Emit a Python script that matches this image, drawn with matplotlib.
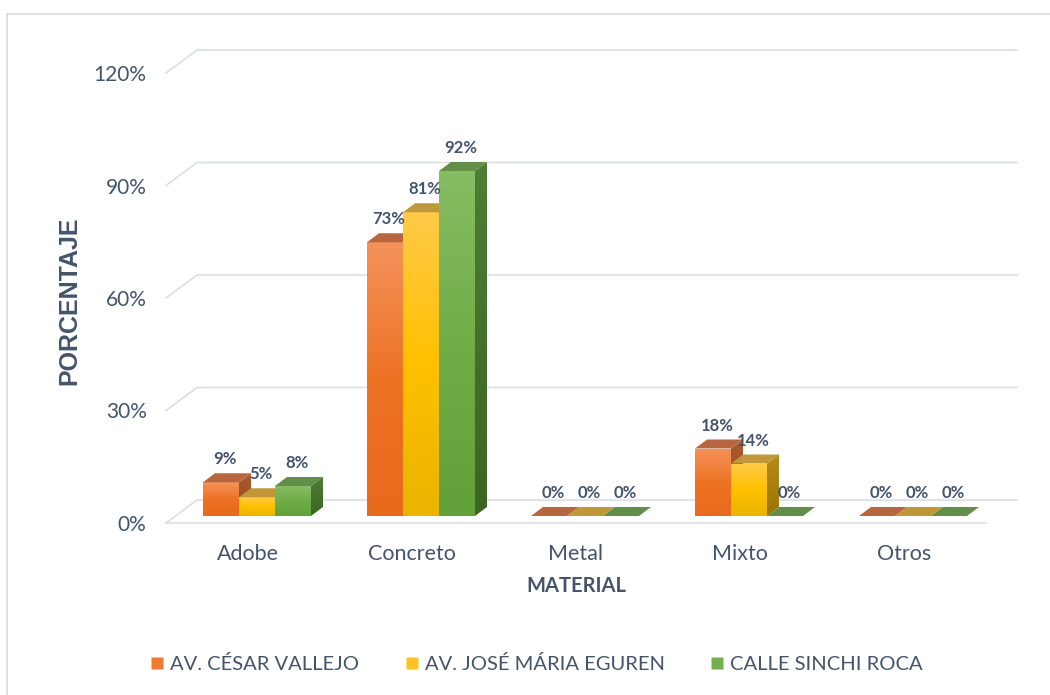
import numpy as np
import matplotlib
matplotlib.use("Agg")
import matplotlib.pyplot as plt
from matplotlib.patches import Polygon
from matplotlib.lines import Line2D
from matplotlib.colors import to_rgb

# data
categories = ["Adobe", "Concreto", "Metal", "Mixto", "Otros"]
series_names = ["AV. CÉSAR VALLEJO", "AV. JOSÉ MÁRIA EGUREN", "CALLE SINCHI ROCA"]
vallejo = [9, 73, 0, 18, 0]
eguren = [5, 81, 0, 14, 0]
sinchi = [8, 92, 0, 0, 0]
y_ticks = [0, 30, 60, 90, 120]

TEXT = "#44546A"
GRID = "#DADEE5"

# per series: front gradient, top face, side gradient, legend swatch
STYLES = [
    dict(front=("#F4925A", "#EE7224", "#E86A1C"), top="#B8663F", side=("#A8592E", "#9A4C20"), legend="#F07A30"),
    dict(front=("#FFCA48", "#FFC000", "#EBB400"), top="#C0983A", side=("#B48C1A", "#9A7400"), legend="#FFC325"),
    dict(front=("#86BC62", "#70AD47", "#62A03A"), top="#618E48", side=("#4E7D34", "#3C6524"), legend="#74B04C"),
]

# 3D look, in data units
BACK_DX, BACK_DY = 31 / 164, 23 / 3.75
FACE_DX, FACE_DY = 9 / 164, 7 / 3.75
DEPTH_DX, DEPTH_DY = 12 / 164, 9 / 3.75
BAR_W = 36 / 164

W, H = 1050, 695
fig = plt.figure(figsize=(W / 100, H / 100), dpi=100)
ax = fig.add_axes([166 / W, (H - 523) / H, 820 / W, 450 / H])
ax.set_xlim(-0.5, 4.5)
ax.set_ylim(0, 120)
ax.set_autoscale_on(False)
for s in ax.spines.values():
    s.set_visible(False)

# gridlines with perspective
for v in y_ticks:
    ax.plot([-0.5, -0.5 + BACK_DX, 4.5 + BACK_DX], [v, v + BACK_DY, v + BACK_DY],
            color=GRID, lw=1.2, clip_on=False, zorder=1)
ax.plot([-0.5, 4.5], [0, 0], color=GRID, lw=1.2, clip_on=False, zorder=1)


def gradient_face(verts, colors, z):
    poly = Polygon(verts, closed=True, facecolor="none", edgecolor="none", zorder=z)
    ax.add_patch(poly)
    xs = [p[0] for p in verts]
    ys = [p[1] for p in verts]
    stops = np.array([to_rgb(c) for c in colors])
    t = np.linspace(0, 1, 64)
    pos = np.linspace(0, 1, len(colors))
    grad = np.stack([np.interp(t, pos, stops[:, k]) for k in range(3)], axis=-1)
    im = ax.imshow(grad[:, None, :], extent=(min(xs), max(xs), min(ys), max(ys)), origin="upper",
                   aspect="auto", interpolation="bilinear", zorder=z)
    im.set_clip_path(poly)


def flat_face(verts, color, z):
    ax.add_patch(Polygon(verts, closed=True, facecolor=color, edgecolor="none", zorder=z))


values = [vallejo, eguren, sinchi]
z = 3
for ci in range(len(categories)):
    for si, vals in enumerate(values):
        v = vals[ci]
        st = STYLES[si]
        x0 = ci + FACE_DX - 1.5 * BAR_W + si * BAR_W
        x1 = x0 + BAR_W
        y0 = FACE_DY
        y1 = FACE_DY + v
        if v > 0:
            gradient_face([(x0, y0), (x1, y0), (x1, y1), (x0, y1)], st["front"], z)
            gradient_face([(x1, y0), (x1 + DEPTH_DX, y0 + DEPTH_DY),
                           (x1 + DEPTH_DX, y1 + DEPTH_DY), (x1, y1)], st["side"], z + 0.5)
        flat_face([(x0, y1), (x1, y1), (x1 + DEPTH_DX, y1 + DEPTH_DY),
                   (x0 + DEPTH_DX, y1 + DEPTH_DY)], st["top"], z + 0.6)
        ax.annotate(f"{v}%", xy=(x0 + BAR_W / 2 + DEPTH_DX / 3, y1 + DEPTH_DY),
                    xytext=(0, 10), textcoords="offset points", ha="center", va="center",
                    fontsize=12, fontweight="bold", color=TEXT, family="Lato", zorder=50)
        z += 1

ax.set_yticks(y_ticks)
ax.set_yticklabels([f"{v}%" for v in y_ticks], fontsize=15, color=TEXT, family="Lato")
ax.set_xticks(range(len(categories)))
ax.set_xticklabels(categories, fontsize=15.5, color=TEXT, family="Lato")
ax.tick_params(axis="y", length=0, pad=14)
ax.tick_params(axis="x", length=0, pad=15)

ax.set_xlabel("MATERIAL", fontsize=14.5, fontweight="bold", color=TEXT, family="Lato", labelpad=9)
fig.text(69 / W, 1 - 301 / H, "PORCENTAJE", rotation=90, ha="center", va="center",
         fontsize=18, fontweight="bold", color=TEXT, family="Liberation Sans")

# legend
handles = [Line2D([], [], marker="s", linestyle="none", markersize=8.5,
                  markerfacecolor=st["legend"], markeredgecolor="none") for st in STYLES]
leg = fig.legend(handles, series_names, loc="center", bbox_to_anchor=(537 / W, 1 - 664 / H),
                 ncol=3, frameon=False, handlelength=0.6, handletextpad=0.35,
                 columnspacing=2.3, prop={"family": "Lato", "size": 14.5})
for t in leg.get_texts():
    t.set_color(TEXT)

# chart border (top and left edges visible)
fig.add_artist(Line2D([7 / W, 1], [1 - 14 / H, 1 - 14 / H], color="#D9D9D9", lw=1.2))
fig.add_artist(Line2D([7 / W, 7 / W], [0, 1 - 14 / H], color="#D9D9D9", lw=1.2))

fig.savefig("out.png", dpi=100)
